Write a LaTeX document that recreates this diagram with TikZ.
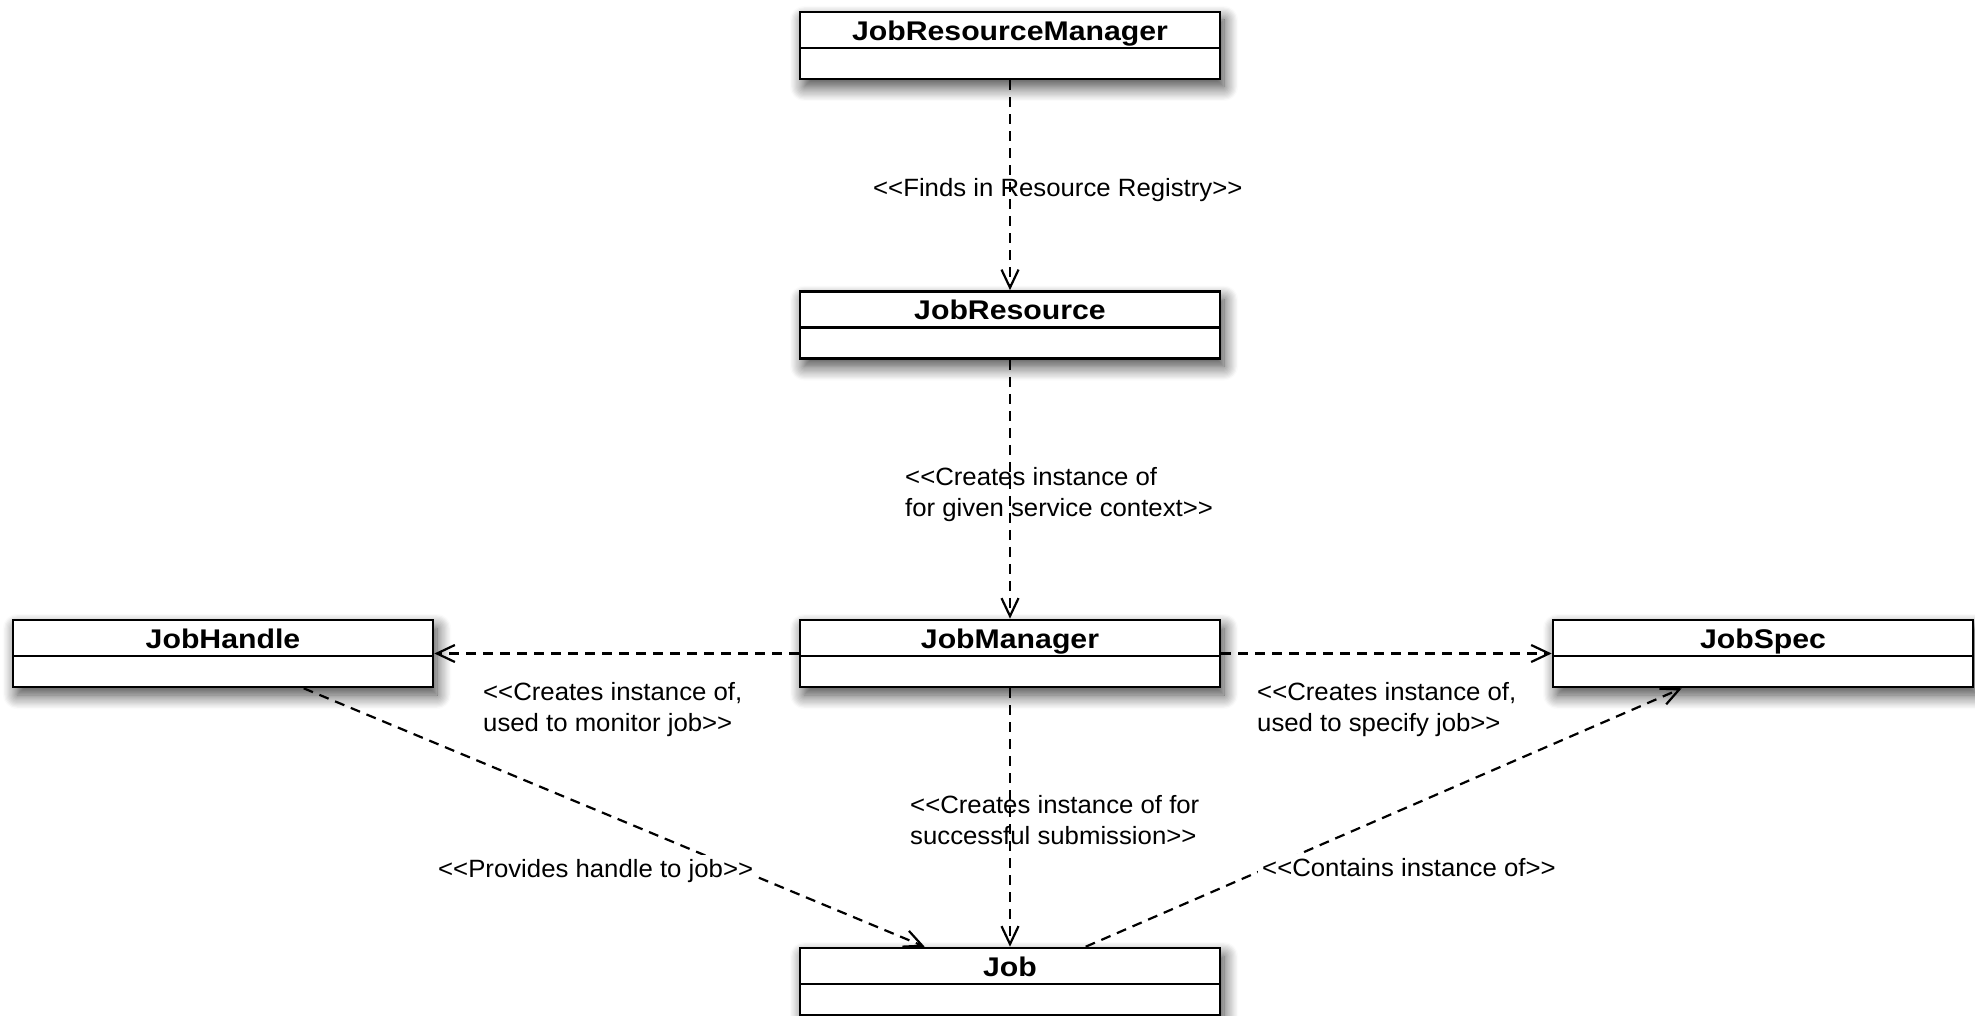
\documentclass[tikz,border=0pt]{standalone}
\usepackage{fontspec}
\newfontfamily\umlfont[FakeStretch=1.12]{Liberation Sans}
\newfontfamily\notefont[FakeStretch=1.03]{Liberation Sans}
\usetikzlibrary{arrows.meta,shadows.blur}

\begin{document}
\begin{tikzpicture}[x=1pt,y=-1pt,
  umlclass/.style={draw=black, line width=2.6pt, fill=white,
    minimum width=420pt, minimum height=67pt, inner sep=0pt,
    blur shadow={shadow xshift=4pt, shadow yshift=-8pt,
      shadow blur radius=14pt, shadow blur steps=12, shadow opacity=75},
    path picture={\draw[line width=2.6pt]
      ([yshift=-36pt]path picture bounding box.north west) --
      ([yshift=-36pt]path picture bounding box.north east);},
    label={[font=\umlfont\bfseries\fontsize{27}{30}\selectfont,
      anchor=base, yshift=-29.5pt]north:#1}},
  dep/.style={draw=black, line width=2.2pt, dash pattern=on 10pt off 7pt,
    -{Straight Barb[length=18pt, width=17pt, line width=2.2pt]}},
  lbl/.style={font=\notefont\fontsize{25}{31}\selectfont, align=left,
    inner sep=0pt, anchor=north west},
  lblbg/.style={lbl, fill=white, inner xsep=4pt, inner ysep=4pt}]

\useasboundingbox (0,0) rectangle (1975,1016);

% classes
\node[umlclass=JobResourceManager] (jrm) at (1010,45.5) {};
\node[umlclass=JobResource]        (jr)  at (1010,325) {};
\node[umlclass=JobManager]         (jm)  at (1010,653.5) {};
\node[umlclass=JobHandle]          (jh)  at (223,653.5) {};
\node[umlclass=JobSpec]            (js)  at (1763,653.5) {};
\node[umlclass=Job]                (job) at (1010,981.5) {};

% attachment points of the slanted dependencies
\coordinate (jh-out)  at ([xshift=292pt]jh.south west);
\coordinate (job-in)  at ([xshift=126pt]job.north west);
\coordinate (job-out) at ([xshift=287pt]job.north west);
\coordinate (js-in)   at ([xshift=130pt]js.south west);

% dependencies
\draw[dep] (jrm.south) -- (jr.north);
\draw[dep] (jr.south) -- (jm.north);
\draw[dep] (jm.west) -- (jh.east);
\draw[dep] (jm.east) -- (js.west);
\draw[dep] (jm.south) -- (job.north);
\draw[dep] (jh-out) -- (job-in);
\draw[dep] (job-out) -- (js-in);

% stereotype labels
\node[lbl] (l1) at (873,178) {<<Finds in Resource Registry>>};
\node[lbl] (l2) at (905,467) {<<Creates instance of\\for given service context>>};
\node[lbl] (l3) at (910,795) {<<Creates instance of for\\successful submission>>};
\node[lbl] (l4) at (483,682) {<<Creates instance of,\\used to monitor job>>};
\node[lbl] (l5) at (1257,682) {<<Creates instance of,\\used to specify job>>};
\node[lblbg] (l6) at (1258,854) {<<Contains instance of>>};
\node[lblbg] (l7) at (434,855) {<<Provides handle to job>>};

\end{tikzpicture}
\end{document}
